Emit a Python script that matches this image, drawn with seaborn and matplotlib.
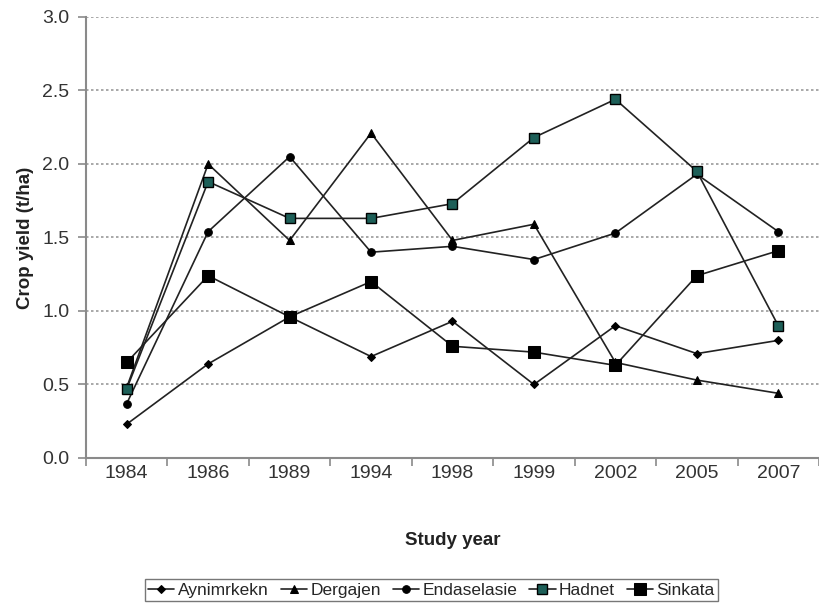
import matplotlib
matplotlib.use("Agg")
import matplotlib.pyplot as plt
import seaborn as sns
import pandas as pd
from matplotlib import font_manager

years = ["1984", "1986", "1989", "1994", "1998", "1999", "2002", "2005", "2007"]
aynimrkekn = [0.23, 0.64, 0.96, 0.69, 0.93, 0.50, 0.90, 0.71, 0.80]
dergajen = [0.48, 2.00, 1.48, 2.21, 1.48, 1.59, 0.65, 0.53, 0.44]
endaselasie = [0.37, 1.54, 2.05, 1.40, 1.44, 1.35, 1.53, 1.93, 1.54]
hadnet = [0.47, 1.88, 1.63, 1.63, 1.73, 2.18, 2.44, 1.95, 0.90]
sinkata = [0.65, 1.24, 0.96, 1.20, 0.76, 0.72, 0.63, 1.24, 1.41]
series_names = ["Aynimrkekn", "Dergajen", "Endaselasie", "Hadnet", "Sinkata"]
series_values = [aynimrkekn, dergajen, endaselasie, hadnet, sinkata]

sns.set_theme(style="white")
names = {f.name for f in font_manager.fontManager.ttflist}
fam = [f for f in ["Liberation Sans Narrow", "Liberation Sans", "DejaVu Sans"] if f in names]
plt.rcParams["font.family"] = fam

rows = []
for n, vals in zip(series_names, series_values):
    for y, v in zip(years, vals):
        rows.append({"year": y, "yield": v, "site": n})
df = pd.DataFrame(rows)

styles = {
    "Aynimrkekn": dict(marker="D", markersize=4.5, markerfacecolor="black", markeredgecolor="black"),
    "Dergajen": dict(marker="^", markersize=6, markerfacecolor="black", markeredgecolor="black"),
    "Endaselasie": dict(marker="o", markersize=5.5, markerfacecolor="black", markeredgecolor="black"),
    "Hadnet": dict(marker="s", markersize=7, markerfacecolor="#1d5f58", markeredgecolor="black", markeredgewidth=1.0),
    "Sinkata": dict(marker="s", markersize=9, markerfacecolor="black", markeredgecolor="black"),
}

fig = plt.figure(figsize=(8.19, 6.07), dpi=100)
ax = fig.add_axes([0.105, 0.2455, 0.895, 0.7265])

for n in series_names:
    sub = df[df["site"] == n]
    sns.lineplot(data=sub, x="year", y="yield", ax=ax, color="#222222", linewidth=1.2,
                 sort=False, label=n, **styles[n])

ax.set_ylim(0, 3.0)
ax.set_xlim(-0.5, 8.43)
ax.set_yticks([0, 0.5, 1.0, 1.5, 2.0, 2.5, 3.0])
ax.set_yticklabels(["0.0", "0.5", "1.0", "1.5", "2.0", "2.5", "3.0"])
ax.yaxis.grid(True, linestyle=(0, (1.5, 1.5)), color="#9a9a9a", linewidth=1.2)
ax.xaxis.grid(False)
for s in ["top", "right"]:
    ax.spines[s].set_visible(False)
for s in ["left", "bottom"]:
    ax.spines[s].set_color("#8a8a8a")
    ax.spines[s].set_linewidth(1.5)

ax.set_xticks(range(len(years)))
ax.set_xticklabels(years)
ax.set_xticks([i + 0.5 for i in range(-1, len(years))], minor=True)
ax.tick_params(axis="x", which="major", length=0, pad=5, labelsize=14, colors="#333333")
ax.tick_params(axis="x", which="minor", length=6, width=1.2, color="#8a8a8a", direction="out", bottom=True)
ax.tick_params(axis="y", length=6, width=1.2, color="#8a8a8a", direction="out", left=True, labelsize=14,
               labelcolor="#333333", pad=6)

ax.set_xlabel("Study year", fontsize=13.5, fontweight="bold", labelpad=36, color="#222222")
ax.set_ylabel("Crop yield (t/ha)", fontsize=13.5, fontweight="bold", color="#222222")
ax.yaxis.set_label_coords(-0.071, 0.5)

h, l = ax.get_legend_handles_labels()
if ax.legend_:
    ax.legend_.remove()
leg = fig.legend(h, l, loc="center", bbox_to_anchor=(0.527, 0.028), ncol=5, frameon=True,
                 fontsize=12.5, handlelength=1.5, handletextpad=0.2, columnspacing=0.7,
                 borderpad=0.2, fancybox=False, edgecolor="#555555")
leg.get_frame().set_linewidth(1.0)

fig.savefig("out.png", dpi=100)
